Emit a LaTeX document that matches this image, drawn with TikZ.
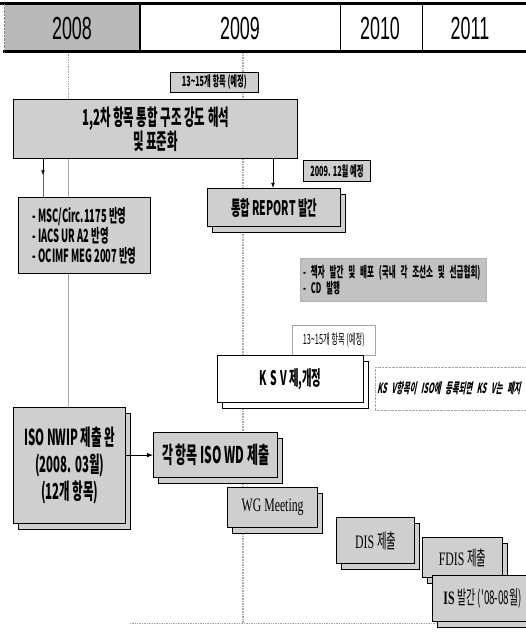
\documentclass[tikz,border=0pt]{standalone}
\usepackage{fontspec}
\setmainfont{Noto Sans CJK KR}
\newfontfamily\nar[FakeStretch=0.52]{Noto Sans CJK KR}
\newfontfamily\narit[FakeStretch=0.52,FakeSlant=0.2]{Noto Sans CJK KR}
\newfontfamily\yearf[FakeStretch=0.56]{Liberation Sans}
\newfontfamily\sernar[FakeStretch=0.62]{Liberation Serif}
\usetikzlibrary{shadows,arrows.meta,backgrounds}
\begin{document}
\begin{tikzpicture}[x=1pt,y=-1pt,
  gbox/.style={draw=black, line width=1.3pt, fill=gray!38, inner sep=1pt, align=center, anchor=north west},
  wbox/.style={draw=black, line width=1pt, fill=white, inner sep=1pt, align=center, anchor=north west},
  shad/.style={copy shadow={shadow xshift=5pt, shadow yshift=-6pt}},
  dline/.style={gray!65, densely dotted, line width=1.6pt},
  tline/.style={gray!70, line width=0.7pt},
  conn/.style={black, line width=0.8pt},
  yr/.style={font=\yearf\fontsize{32}{32}\selectfont, inner sep=0pt},
]
\useasboundingbox (0,0) rectangle (526,636);

% header
\fill[gray!55] (5,5) rectangle (140,51);
\draw[line width=3pt] (0,4) -- (526,4);
\draw[line width=3pt] (3,52) -- (526,52);
\draw[line width=2.5pt] (140,4) -- (140,52);
\draw[line width=1pt] (340,4) -- (340,52);
\draw[line width=1pt] (422,4) -- (422,52);
\draw[gray, densely dotted] (4,4) -- (4,52);
\node[yr] (y08) at (72,28) {2008};
\node[yr] (y09) at (240,28) {2009};
\node[yr] (y10) at (380,28) {2010};
\node[yr] (y11) at (470,28) {2011};

\coordinate (hb) at (0,52);
\coordinate (c43) at (43,0);
\coordinate (c68) at (68,0);
\coordinate (c243) at (243,0);
\coordinate (c273) at (273,0);
\coordinate (bl) at (243,623);
\coordinate (bl0) at (130,623);
\coordinate (bl1) at (526,623);

% boxes
\node[gbox, line width=0.8pt, minimum width=88pt, minimum height=20pt,
  font=\nar\bfseries\fontsize{14}{15}\selectfont] (t1315) at (170,72)
  {13\textasciitilde15개 항목 (예정)};

\node[gbox, minimum width=284pt, minimum height=59pt,
  font=\nar\bfseries\fontsize{22}{22}\selectfont] (b12) at (13,99)
  {1,2차 항목 통합 구조 강도 해석\\및 표준화};

\node[gbox, line width=0.8pt, minimum width=67pt, minimum height=21pt,
  font=\nar\bfseries\fontsize{14}{15}\selectfont] (d0912) at (303,160)
  {2009. 12월 예정};

\node[gbox, shad, minimum width=133pt, minimum height=38pt,
  font=\nar\bfseries\fontsize{20}{21}\selectfont] (rep) at (207,188)
  {통합 REPORT 발간};

\node[gbox, minimum width=132pt, minimum height=76pt, align=left,
  font=\nar\bfseries\fontsize{18}{20}\selectfont] (msc) at (18,197)
  {- MSC/Circ.1175 반영\\- IACS UR A2 반영\\- OCIMF MEG 2007 반영};

\node[draw=gray!60, fill=gray!48, anchor=north west, minimum width=186pt, minimum height=43pt,
  text width=180pt, align=left, inner sep=2pt,
  font=\nar\bfseries\fontsize{14.5}{16}\selectfont] (chk) at (300,258)
  {- 책자 발간 및 배포 (국내 각 조선소 및 선급협회)\\- CD 발행};

\node[wbox, draw=gray!70, line width=0.6pt, minimum width=83pt, minimum height=30pt,
  font=\nar\fontsize{14}{15}\selectfont] (w1315) at (292,325)
  {13\textasciitilde15개 항목 (예정)};

\node[wbox, shad, minimum width=146pt, minimum height=47pt,
  font=\nar\bfseries\fontsize{20}{22}\selectfont] (ksv) at (217,355)
  {K\,S\,V 제,개정};

\node[draw=gray!70, densely dotted, fill=white, anchor=north west, minimum height=43pt,
  text width=160pt, align=left, inner sep=2pt,
  font=\narit\bfseries\fontsize{14}{15}\selectfont] (note) at (375,367)
  {KS V항목이 ISO에 등록되면 KS V는 폐지};

\node[gbox, shad, minimum width=112pt, minimum height=116pt,
  font=\nar\bfseries\fontsize{22}{27}\selectfont] (nwip) at (13,407)
  {ISO NWIP 제출 완\\(2008. 03월)\\(12개 항목)};

\node[gbox, shad, minimum width=124pt, minimum height=45pt,
  font=\nar\bfseries\fontsize{23}{24}\selectfont] (wd) at (153,432)
  {각 항목 ISO WD 제출};

\node[gbox, shad, minimum width=90pt, minimum height=40pt,
  font=\sernar\fontsize{19}{20}\selectfont] (wg) at (227,487)
  {WG Meeting};

\node[gbox, shad, minimum width=78pt, minimum height=46pt,
  font=\sernar\fontsize{19}{20}\selectfont] (dis) at (336,517)
  {DIS {\nar\fontsize{20}{20}\selectfont 제출}};

\node[gbox, shad, minimum width=80pt, minimum height=40pt,
  font=\sernar\fontsize{19}{20}\selectfont] (fdis) at (422,537)
  {FDIS {\nar\fontsize{20}{20}\selectfont 제출}};

\node[gbox, shad, minimum width=100pt, minimum height=46pt,
  font=\sernar\bfseries\fontsize{19}{20}\selectfont] (is) at (432,575)
  {IS {\nar\mdseries\fontsize{19}{20}\selectfont 발간 ('08-08월)}};

% background lines
\begin{scope}[on background layer]
  \draw[dline] (c243 |- hb) -- (bl);
  \draw[tline, densely dotted] (bl0) -- (bl1);
  \draw[tline, densely dotted] (c68 |- hb) -- (c68 |- b12.north);
\end{scope}

% connectors
\draw[tline] (c68 |- b12.south) -- (c68 |- msc.north);
\draw[tline] (c68 |- msc.south) -- (c68 |- nwip.north);
\draw[conn, gray!80!black] (c43 |- b12.south) -- (c43 |- msc.north);
\draw[conn, -{Latex[length=5pt]}] (c43 |- b12.south) -- ++(0,16);
\draw[conn, -{Latex[length=5pt]}] (c273 |- b12.south) -- (c273 |- rep.north);
\draw[conn, -{Latex[length=6pt]}] (nwip.east |- wd.west) -- (wd.west);
\end{tikzpicture}
\end{document}
